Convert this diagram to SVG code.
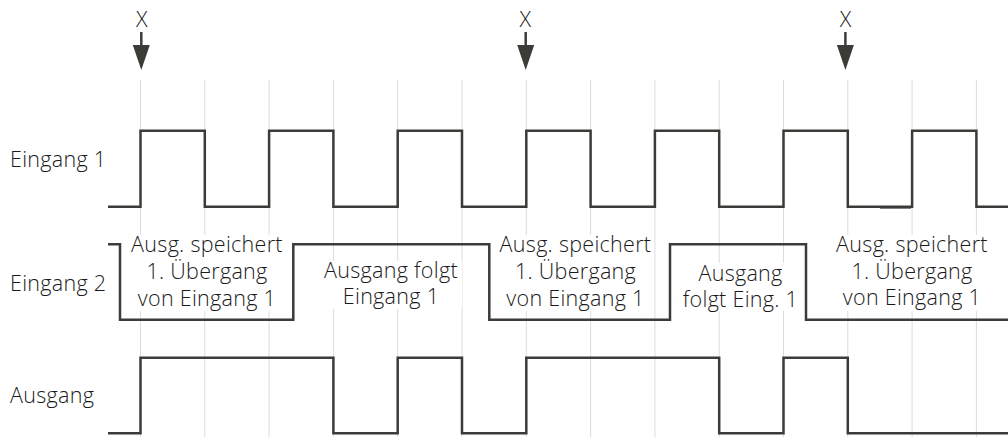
<svg xmlns="http://www.w3.org/2000/svg" width="1008" height="437" viewBox="0 0 1008 437">
<style>
.grid{stroke:#dcdcdc;stroke-width:1;fill:none}
.sig{stroke:#3b3b38;stroke-width:2.5;fill:none;stroke-linejoin:miter;stroke-linecap:butt}
.t{font-family:"Open Sans","Liberation Sans",sans-serif;font-size:21.5px;font-weight:300;letter-spacing:0.3px;fill:#1a1a1a}
.c{text-anchor:middle}
.bg{fill:#ffffff}
.arr{stroke:#3b3b38;stroke-width:2.5;fill:none}
.head{fill:#3b3b38}
</style>
<rect width="1008" height="437" fill="#ffffff"/>
<g id="grid" class="grid">
<path d="M140.5,80V437M204.8,80V437M269.1,80V437M333.4,80V437M397.7,80V437M462,80V437M526.3,80V437M590.6,80V437M654.9,80V437M719.2,80V437M783.5,80V437M847.8,80V437M912.1,80V437M976.4,80V437"/>
</g>
<g id="labels">
<text class="t" x="10" y="167">Eingang 1</text>
<text class="t" x="10" y="291">Eingang 2</text>
<text class="t" x="10" y="403">Ausgang</text>
</g>
<g id="note1">
<rect class="bg" x="131" y="235" width="153" height="76"/>
<text class="t c" x="207" y="252">Ausg. speichert</text>
<text class="t c" x="207" y="279">1. Übergang</text>
<text class="t c" x="207" y="306">von Eingang 1</text>
</g>
<g id="note2">
<rect class="bg" x="320" y="261" width="142" height="48"/>
<text class="t c" x="391" y="278">Ausgang folgt</text>
<text class="t c" x="391" y="304">Eingang 1</text>
</g>
<g id="note3">
<rect class="bg" x="499" y="235" width="154" height="76"/>
<text class="t c" x="575.5" y="252">Ausg. speichert</text>
<text class="t c" x="575.5" y="279">1. Übergang</text>
<text class="t c" x="575.5" y="306">von Eingang 1</text>
</g>
<g id="note4">
<rect class="bg" x="680" y="263" width="121" height="48"/>
<text class="t c" x="740.5" y="281">Ausgang</text>
<text class="t c" x="740.5" y="307">folgt Eing. 1</text>
</g>
<g id="note5">
<rect class="bg" x="835" y="235" width="154" height="76"/>
<text class="t c" x="912" y="252">Ausg. speichert</text>
<text class="t c" x="912" y="279">1. Übergang</text>
<text class="t c" x="912" y="305">von Eingang 1</text>
</g>
<g id="eingang1">
<path class="sig" d="M108,206.7H140.5V130.7H204.8V206.7H269.1V130.7H333.4V206.7H397.7V130.7H462V206.7H526.3V130.7H590.6V206.7H654.9V130.7H719.2V206.7H783.5V130.7H847.8V206.7H912.1V130.7H976.4V206.7H1008"/>
<path class="sig" d="M880,207.4H911"/>
</g>
<g id="eingang2">
<path class="sig" d="M108,244.3H120V319.7H293.3V244.3H489.3V319.7H670V244.3H806V319.7H1008"/>
</g>
<g id="ausgang">
<path class="sig" d="M108,433.3H140.5V357.7H333.4V433.3H397.7V357.7H462V433.3H526.3V357.7H719.2V433.3H783.5V357.7H847.8V433.3H1008"/>
</g>
<g id="connectors">
<g id="marker1">
<text class="t c" x="142" y="27">X</text>
<path class="arr" d="M141.3,32V46"/>
<polygon class="head" points="132.8,45 149.8,45 141.3,70"/>
</g>
<g id="marker2">
<text class="t c" x="525.5" y="27">X</text>
<path class="arr" d="M525.7,32V46"/>
<polygon class="head" points="517.2,45 534.2,45 525.7,70"/>
</g>
<g id="marker3">
<text class="t c" x="845.8" y="27">X</text>
<path class="arr" d="M845.4,32V46"/>
<polygon class="head" points="836.9,45 853.9,45 845.4,70"/>
</g>
</g>
</svg>
